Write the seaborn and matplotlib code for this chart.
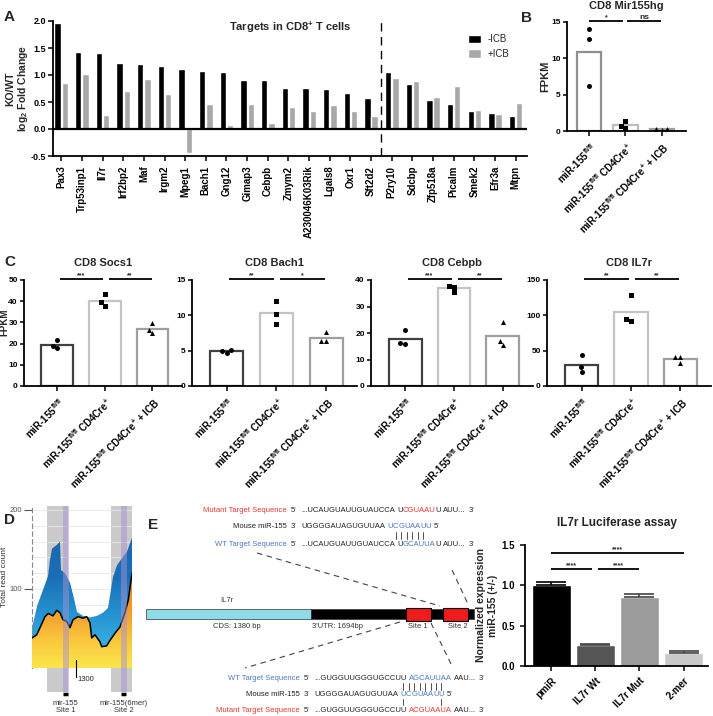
import numpy as np
import pandas as pd
import matplotlib
matplotlib.use("Agg")
import matplotlib.pyplot as plt
import seaborn as sns
from matplotlib.colors import LinearSegmentedColormap
from matplotlib.patches import Rectangle
from matplotlib.offsetbox import TextArea, HPacker, AnnotationBbox

# ---------------- data ----------------
# A: KO/WT log2 fold change of miR-155 targets in CD8+ T cells
genes = ['Pax3', 'Trp53inp1', 'Il7r', 'Irf2bp2', 'Maf', 'Irgm2', 'Mpeg1', 'Bach1',
         'Gng12', 'Gimap3', 'Cebpb', 'Zmym2', 'A230046K03Rik', 'Lgals8', 'Oxr1',
         'Sft2d2', 'P2ry10', 'Sdcbp', 'Zfp518a', 'Picalm', 'Smek2', 'Efr3a', 'Mtpn']
fc_minus_icb = [1.97, 1.43, 1.40, 1.23, 1.20, 1.17, 1.12, 1.08, 1.05, 0.91, 0.91, 0.76,
                0.76, 0.74, 0.67, 0.57, 1.05, 0.83, 0.54, 0.46, 0.34, 0.30, 0.25]
fc_plus_icb = [0.85, 1.01, 0.26, 0.70, 0.93, 0.64, -0.45, 0.47, 0.08, 0.46, 0.11, 0.41,
               0.33, 0.45, 0.33, 0.24, 0.94, 0.89, 0.60, 0.79, 0.35, 0.27, 0.48]

# B/C: FPKM replicates per genotype
genotypes = [r"miR-155$^{\mathregular{fl/fl}}$",
             r"miR-155$^{\mathregular{fl/fl}}$ CD4Cre$^{\mathregular{+}}$",
             r"miR-155$^{\mathregular{fl/fl}}$ CD4Cre$^{\mathregular{+}}$ + ICB"]
mir155hg = [[14.0, 12.6, 6.2], [1.4, 0.7, 0.35], [0.3, 0.25, 0.2]]
socs1 = [[21.7, 17.8, 19.0], [43.2, 37.9, 39.5], [29.7, 24.9, 26.5]]
bach1 = [[5.1, 4.7, 5.0], [12.0, 10.2, 8.8], [7.6, 6.3, 6.3]]
cebpb = [[21.2, 15.9, 16.2], [35.3, 37.4, 37.8], [24.2, 17.1, 15.5]]
il7r = [[44.5, 26.5, 19.5], [128.5, 92.0, 95.0], [40.6, 32.2, 40.6]]

# D: IL7r 3'UTR coverage track (relative position, read count)
cov_pos = [0, 5, 11, 16, 18, 20, 25, 28, 29, 33, 38, 42, 45, 51, 58, 65, 71, 76, 81, 85, 90, 95, 100]
cov_total = [50, 78, 99, 116, 137, 151, 156, 160, 124, 120, 108, 88, 71, 66, 64, 66, 70, 76,
             115, 130, 139, 147, 165]
cov_line_pos = [0, 4.7, 8, 13, 16.3, 21, 24.7, 28, 31, 34.7, 38, 41, 46, 51, 54.7, 58, 59.7,
                63, 68, 69.7, 74.7, 78, 83, 88, 93, 96.3, 100]
cov_line = [38, 42, 51, 65, 69, 66, 73, 70, 61, 59, 51, 61, 65, 63, 65, 57, 38, 42, 33, 27,
            28, 35, 44, 52, 70, 86, 120]
site_windows = [(14.7, 36.3), (78.7, 100)]
mir_seed = [(30.7, 37.0), (89.0, 94.7)]
pos_1300 = 44
site_names = ['mir-155\nSite 1', 'mir-155(6mer)\nSite 2']

# E: luciferase assay
luc_constructs = ['pmiR', 'IL7r Wt', 'IL7r Mut', '2-mer']
luc_mean = [1.0, 0.26, 0.86, 0.165]
luc_sem = [0.04, 0.015, 0.03, 0.015]

# ---------------- style ----------------
sns.set_style('ticks')
plt.rcParams['font.family'] = ['Liberation Sans', 'DejaVu Sans']
plt.rcParams.update({
    'font.weight': 'bold', 'axes.labelweight': 'bold', 'axes.titleweight': 'bold',
    'axes.linewidth': 1.3, 'axes.edgecolor': 'black',
    'xtick.major.width': 1.1, 'ytick.major.width': 1.1,
    'xtick.major.size': 3.5, 'ytick.major.size': 3.5,
    'xtick.color': 'black', 'ytick.color': 'black',
    'mathtext.fontset': 'custom', 'mathtext.rm': 'Liberation Sans',
})

W, H = 713, 716
fig = plt.figure(figsize=(W / 100, H / 100), dpi=100)


def box(x0, y0, x1, y1):
    return [x0 / W, 1 - y1 / H, (x1 - x0) / W, (y1 - y0) / H]


def letter(x, y, s):
    fig.text(x / W, 1 - y / H, s, fontsize=11, fontweight='bold', va='center')


def sig(ax, x0, x1, y, txt, fs=5):
    ax.plot([x0, x1], [y, y], color='black', lw=1.3, clip_on=False, solid_capstyle='butt')
    ax.text((x0 + x1) / 2, y, txt, ha='center', va='bottom', fontsize=fs, clip_on=False)


markers = ['o', 's', '^']


def fpkm_panel(ax, reps, ymax, yticks, title, sigs, edges, xlim, pad):
    df = pd.DataFrame({'grp': np.repeat(genotypes, 3), 'val': np.concatenate(reps)})
    sns.barplot(data=df, x='grp', y='val', hue='grp', palette=edges, fill=False,
                errorbar=None, width=0.67, linewidth=1.6, saturation=1, legend=False, ax=ax)
    for g, mk in zip(genotypes, markers):
        sns.swarmplot(data=df[df.grp == g], x='grp', y='val', order=genotypes,
                      color='black', marker=mk, size=3.6, ax=ax)
    ax.set_xlim(*xlim)
    ax.set_ylim(0, ymax)
    ax.set_yticks(yticks)
    ax.set_xticks(range(3))
    ax.set_xticklabels(genotypes, rotation=45, ha='right', rotation_mode='anchor', fontsize=7)
    ax.tick_params(axis='y', labelsize=6, pad=1.5, length=3)
    ax.set_xlabel('')
    ax.set_ylabel('')
    ax.set_title(title, fontsize=8, pad=pad)
    for a, b, t in sigs:
        sig(ax, a, b, ymax * 1.01, t, fs=6 if t == 'ns' else 5)
    sns.despine(ax=ax)


# ---------------- A ----------------
axA = fig.add_axes(box(53, 21, 527, 156))
dfA = pd.DataFrame({'gene': genes * 2, 'fc': fc_minus_icb + fc_plus_icb,
                    'cond': ['-ICB'] * len(genes) + ['+ICB'] * len(genes)})
sns.barplot(data=dfA, x='gene', y='fc', hue='cond', palette=['black', '#a8a8a8'],
            width=0.7, gap=0.12, errorbar=None, saturation=1, ax=axA)
axA.set_xlim(-0.4, 22.55)
axA.set_ylim(-0.5, 2.0)
axA.axhline(0, color='black', lw=1.6)
axA.axvline(15.5, color='black', lw=1, ls=(0, (6, 4)))
axA.set_yticks([-0.5, 0, 0.5, 1.0, 1.5, 2.0])
axA.set_yticklabels(['%.1f' % v for v in [-0.5, 0, 0.5, 1.0, 1.5, 2.0]])
axA.tick_params(axis='x', rotation=90, labelsize=7)
axA.tick_params(axis='y', labelsize=6.5, pad=1.5)
axA.set_xlabel('')
axA.set_ylabel('KO/WT\nlog$_2$ Fold Change', fontsize=7.5, linespacing=1.1)
axA.yaxis.set_label_coords((30 - 53) / 474, 0.5)
h, l = axA.get_legend_handles_labels()
axA.legend(h, l, loc='upper left', bbox_to_anchor=(0.875, 0.9), frameon=False,
           prop={'size': 7, 'weight': 'normal'}, handlelength=1.4, handleheight=0.9,
           labelspacing=0.45, handletextpad=0.6, borderaxespad=0, borderpad=0)
axA.text(0.5, 0.955, r'Targets in CD8$^{\mathregular{+}}$ T cells', transform=axA.transAxes,
         ha='center', va='center', fontsize=8)
sns.despine(ax=axA)
letter(4, 17, 'A')

# ---------------- B ----------------
axB = fig.add_axes(box(567, 22, 686, 131))
fpkm_panel(axB, mir155hg, 15, [0, 5, 10, 15], 'CD8 Mir155hg', [(0, 0.93, '*'), (1.05, 1.97, 'ns')],
           ['#8f8f8f', '#bdbdbd', '#9e9e9e'], (-0.61, 2.67), 9.5)
axB.set_ylabel('FPKM', fontsize=8)
axB.yaxis.set_label_coords((550 - 567) / 119, 0.5)
letter(521, 18, 'B')

# ---------------- C ----------------
c_edges = ['#404040', '#c4c4c4', '#9e9e9e']
c_specs = [
    ((24, 280, 182, 386), socs1, 50, [0, 10, 20, 30, 40, 50], 'CD8 Socs1', [(0.05, 0.95, '***'), (1.08, 1.98, '**')]),
    ((192, 280, 357, 386), bach1, 15, [0, 5, 10, 15], 'CD8 Bach1', [(0.05, 0.95, '**'), (1.08, 1.98, '*')]),
    ((371, 280, 533, 386), cebpb, 40, [0, 10, 20, 30, 40], 'CD8 Cebpb', [(0.05, 0.95, '***'), (1.08, 1.98, '**')]),
    ((547, 280, 711, 386), il7r, 150, [0, 50, 100, 150], 'CD8 IL7r', [(0.05, 0.95, '**'), (1.08, 1.98, '**')]),
]
for i, (rect, reps, ymax, yt, title, sg) in enumerate(c_specs):
    ax = fig.add_axes(box(*rect))
    fpkm_panel(ax, reps, ymax, yt, title, sg, c_edges, (-0.7, 2.62), 10)
    if i == 0:
        ax.set_ylabel('FPKM', fontsize=7)
        ax.yaxis.set_label_coords((9.5 - 24) / 158, 0.6)
letter(4, 262, 'C')

# ---------------- D ----------------
axD = fig.add_axes(box(32, 506, 132, 692))
for lo, hi in site_windows:
    axD.axvspan(lo, hi, color='#cacaca', lw=0, zorder=0)
for yv in range(20, 201, 20):
    axD.axhline(yv, color='#e8e8e8', lw=0.6, zorder=0.5)


def gradient_fill(ax, x, y, colors, top, z):
    poly = ax.fill_between(x, 0, y, facecolor='none', edgecolor='none')
    cmap = LinearSegmentedColormap.from_list('g', colors)
    img = ax.imshow(np.linspace(0, 1, 256).reshape(-1, 1), cmap=cmap, aspect='auto',
                    origin='lower', extent=[min(x), max(x), 0, top], zorder=z)
    img.set_clip_path(poly.get_paths()[0], transform=ax.transData)


gradient_fill(axD, cov_pos, cov_total, ['#45c4ec', '#2a9bd6', '#1b6fb6', '#1a66b0'], 170, 2)
gradient_fill(axD, cov_line_pos, cov_line, ['#fbe64a', '#f9c53c', '#f29a2e', '#ee8429'], 110, 3)
axD.plot(cov_line_pos, cov_line, color='black', lw=1.1, zorder=4)
for lo, hi in mir_seed:
    axD.axvspan(lo, hi, color='#a690d2', alpha=0.5, lw=0, zorder=5)
axD.set_xlim(0, 100)
axD.set_ylim(-30.4, 205)
for sp in ['top', 'right', 'bottom']:
    axD.spines[sp].set_visible(False)
axD.spines['left'].set_linestyle((0, (4, 3)))
axD.spines['left'].set_color('#8a8a8a')
axD.spines['left'].set_linewidth(0.8)
axD.spines['left'].set_bounds(0, 205)
axD.set_xticks([])
axD.set_yticks([100, 200])
axD.tick_params(axis='y', length=6, width=0.8, colors='#555555', labelsize=5.5, pad=1)
for lab in axD.get_yticklabels():
    lab.set_fontweight('normal')
axD.set_ylabel('Total read count', fontsize=6, fontweight='normal', color='#333333')
axD.yaxis.set_label_coords(-0.24, 0.62)
axD.plot([pos_1300, pos_1300], [10, -11], color='black', lw=0.8, clip_on=False, zorder=6)
axD.text(pos_1300 + 1.5, -15, '1300', fontsize=5.5, fontweight='normal', va='center', clip_on=False)
for (lo, hi), name in zip(mir_seed, site_names):
    c = (lo + hi) / 2
    axD.plot([c - 2.5, c + 2.5], [-33, -33], color='black', lw=2.5, clip_on=False,
             solid_capstyle='butt')
    axD.text(c, -40, name, ha='center', va='top', fontsize=5.5, fontweight='normal',
             color='#333333', linespacing=1.0, clip_on=False)
letter(4, 520, 'D')

# ---------------- E (bar chart) ----------------
luc_colors = ['#000000', '#555555', '#9b9b9b', '#c9c9c9']
axE = fig.add_axes(box(525, 545, 708, 666))
sns.barplot(x=luc_constructs, y=luc_mean, hue=luc_constructs, palette=luc_colors,
            width=0.88, saturation=1, legend=False, ax=axE)
for i, (m, e) in enumerate(zip(luc_mean, luc_sem)):
    axE.errorbar(i, m, yerr=[[0], [e]], fmt='none', ecolor='black' if i == 0 else '#444444',
                 elinewidth=1.2, capsize=11, capthick=1.2)
axE.set_xlim(-0.59, 3.55)
axE.set_ylim(0, 1.5)
axE.set_yticks([0, 0.5, 1.0, 1.5])
axE.set_yticklabels(['%.1f' % v for v in [0, 0.5, 1.0, 1.5]])
axE.set_xticks(range(4))
axE.set_xticklabels(luc_constructs, rotation=45, ha='right', rotation_mode='anchor', fontsize=7)
axE.tick_params(axis='y', labelsize=7)
axE.set_ylabel('Normalized expression\nmiR-155 (+/-)', fontsize=7.5, labelpad=3)
axE.set_title('IL7r Luciferase assay', fontsize=8.5, pad=14)
sig(axE, 0, 3, 1.40, '****')
sig(axE, 0, 0.93, 1.20, '****')
sig(axE, 1.07, 2, 1.20, '****')
sns.despine(ax=axE)
letter(148, 525, 'E')

# ---------------- E (IL7r schematic) ----------------
axO = fig.add_axes([0, 0, 1, 1])
axO.set_xlim(0, W)
axO.set_ylim(H, 0)
axO.axis('off')

ink, red, blue = '#222222', '#e8372c', '#4a77c2'
gene_parts = [(146, 311, '#8edbe8'), (311, 474, 'black')]
site_boxes = [(406, 431), (443, 468)]
for x0, x1, c in gene_parts:
    axO.add_patch(Rectangle((x0, 609), x1 - x0, 10, fc=c, ec='#333333', lw=0.5))
for x0, x1 in site_boxes:
    axO.add_patch(Rectangle((x0, 607.5), x1 - x0, 13, fc='#ee1c1c', ec='black', lw=0.8))
for x, y, s in [(227, 601, 'IL7r'), (237, 626, 'CDS: 1380 bp'), (338, 626, "3'UTR: 1694bp"),
                (418, 626, 'Site 1'), (458, 626, 'Site 2')]:
    axO.text(x, y, s, fontsize=5.5, fontweight='normal', color='#333333', ha='center', va='center')
for (x0, y0), (x1, y1) in [((257, 553), (440, 606)), ((452, 570), (468, 604)),
                           ((400, 622), (245, 668)), ((431, 623), (453, 668))]:
    axO.plot([x0, x1], [y0, y1], color='#444444', lw=0.8, ls=(0, (5, 4)))


def seq_row(y, label, label_color, prime, segs, x_label, split=False):
    axO.text(x_label, y, label, color=label_color, ha='right', va='center',
             fontsize=5.5, fontweight='normal')
    axO.text(x_label + 4, y, prime, color=ink, ha='left', va='center', fontsize=5.5,
             fontweight='normal')
    words = [[]]
    letters = []
    for text, color in segs:
        for k, part in enumerate(text.split(' ')):
            if k > 0:
                words.append([])
            if not part:
                continue
            props = dict(color=color, fontsize=5.5, fontweight='normal')
            if split and color != ink:
                for ch in part:
                    ta = TextArea(ch, textprops=props)
                    words[-1].append(ta)
                    letters.append(ta)
            else:
                words[-1].append(TextArea(part, textprops=props))
    pack = HPacker(children=[HPacker(children=w, pad=0, sep=0, align='baseline') for w in words if w],
                   pad=0, sep=1.7, align='baseline')
    ab = AnnotationBbox(pack, (x_label + 14, y), xycoords='data', box_alignment=(0, 0.5),
                        frameon=False, pad=0)
    axO.add_artist(ab)
    return letters


seq_row(511, 'Mutant Target Sequence', red, "5'",
        [("...UCAUGUAUUGUAUCCA U", ink), ("CGUAAU", red), ("U AUU... 3'", ink)], 287)
top_mouse = seq_row(527, 'Mouse miR-155', ink, "3'",
                    [("UGGGGAUAGUGUUAA ", ink), ("UCGUAAUU", blue), (" 5'", ink)], 287, split=True)
seq_row(544, 'WT Target Sequence', blue, "5'",
        [("...UCAUGUAUUGUAUCCA U", ink), ("GCAUUA", blue), ("U AUU... 3'", ink)], 287)
seq_row(678, 'WT Target Sequence', blue, "5'",
        [("...GUGGUUGGGUGCCUU ", ink), ("AGCAUUAA", blue), (" AAU... 3'", ink)], 300)
bot_mouse = seq_row(694, 'Mouse miR-155', ink, "3'",
                    [("UGGGGAUAGUGUUAA ", ink), ("UCGUAAUU", blue), (" 5'", ink)], 300, split=True)
seq_row(710, 'Mutant Target Sequence', red, "5'",
        [("...GUGGUUGGGUGCCUU ", ink), ("ACGUAAUA", red), (" AAU... 3'", ink)], 300)

# base-pairing ticks under the seed letters
fig.canvas.draw()
rend = fig.canvas.get_renderer()
inv = axO.transData.inverted()


def letter_x(ta):
    bb = ta.get_window_extent(rend)
    return inv.transform(((bb.x0 + bb.x1) / 2, (bb.y0 + bb.y1) / 2))[0]


pairs = [(top_mouse, range(1, 7), 532, 539), (bot_mouse, range(0, 8), 683, 690),
         (bot_mouse, [0, 7], 699, 705)]
for letters, idx, y0, y1 in pairs:
    for i in idx:
        xc = letter_x(letters[i])
        axO.plot([xc, xc], [y0, y1], color='#333333', lw=0.6)

fig.savefig('out.png', dpi=100)
